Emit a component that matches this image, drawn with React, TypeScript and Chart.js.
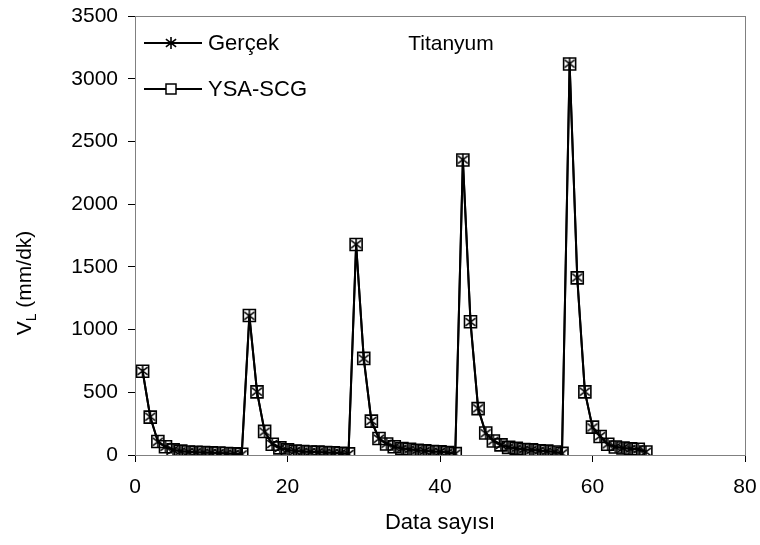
import React, { useEffect, useRef } from "react";
import { Chart, registerables } from "chart.js";

Chart.register(...registerables);

const xValues: number[] = Array.from({ length: 67 }, (_, i) => i + 1);

const gercek: number[] = [
  670, 305, 106, 65, 40, 30, 25, 22, 20, 18, 15, 12, 10, 5,
  1110, 505, 186, 88, 56, 40, 32, 28, 25, 22, 20, 18, 15, 8,
  1680, 768, 272, 130, 90, 65, 52, 45, 38, 32, 28, 25, 20, 10,
  2355, 1060, 372, 173, 114, 80, 62, 52, 45, 40, 35, 30, 25, 12,
  3120, 1415, 505, 220, 150, 85, 65, 55, 50, 45, 25,
];

const ysaScg: number[] = [
  668, 302, 108, 66, 41, 31, 24, 21, 20, 17, 16, 12, 9, 6,
  1112, 503, 188, 86, 57, 41, 31, 28, 24, 23, 19, 18, 14, 9,
  1678, 770, 270, 132, 88, 66, 51, 46, 37, 33, 27, 26, 19, 11,
  2352, 1062, 370, 175, 112, 81, 61, 53, 44, 41, 34, 31, 24, 13,
  3117, 1412, 503, 222, 148, 86, 64, 56, 49, 46, 24,
];

const xTicks = [0, 20, 40, 60, 80];
const yTicks = [0, 500, 1000, 1500, 2000, 2500, 3000, 3500];

const FONT = "Arial, 'Liberation Sans', sans-serif";

function makeAsterisk(size: number): HTMLCanvasElement {
  const c = document.createElement("canvas");
  c.width = size;
  c.height = size;
  const g = c.getContext("2d")!;
  g.strokeStyle = "#000";
  g.lineWidth = 1.6;
  const m = size / 2;
  const r = size / 2 - 1;
  g.beginPath();
  g.moveTo(m, m - r);
  g.lineTo(m, m + r);
  const d = r * 0.85;
  g.moveTo(m - d, m - d * 0.75);
  g.lineTo(m + d, m + d * 0.75);
  g.moveTo(m - d, m + d * 0.75);
  g.lineTo(m + d, m - d * 0.75);
  g.stroke();
  return c;
}

export default function App() {
  const ref = useRef<HTMLCanvasElement | null>(null);

  useEffect(() => {
    document.body.style.margin = "0";
    const canvas = ref.current!;
    const star = makeAsterisk(14);

    const overlay = {
      id: "overlay",
      beforeDatasetsDraw(chart: any) {
        const { ctx, chartArea: a } = chart;
        ctx.save();
        ctx.strokeStyle = "#808080";
        ctx.lineWidth = 1;
        ctx.strokeRect(a.left + 0.5, a.top + 0.5, a.right - a.left, a.bottom - a.top);
        ctx.restore();
      },
      afterDraw(chart: any) {
        const { ctx } = chart;
        ctx.save();
        ctx.fillStyle = "#000";
        ctx.strokeStyle = "#000";
        ctx.textBaseline = "middle";
        // title
        ctx.font = `21px ${FONT}`;
        ctx.textAlign = "center";
        ctx.fillText("Titanyum", 451, 44);
        // legend
        ctx.textAlign = "left";
        ctx.font = `22px ${FONT}`;
        const rows = [
          { y: 43, label: "Gerçek", kind: "star" },
          { y: 89, label: "YSA-SCG", kind: "rect" },
        ];
        for (const r of rows) {
          ctx.lineWidth = 2;
          ctx.beginPath();
          ctx.moveTo(144, r.y);
          ctx.lineTo(202, r.y);
          ctx.stroke();
          if (r.kind === "star") {
            ctx.drawImage(star, 171 - 7, r.y - 7);
          } else {
            ctx.lineWidth = 1.5;
            ctx.fillStyle = "#fff";
            ctx.fillRect(166, r.y - 5, 10, 10);
            ctx.strokeRect(166, r.y - 5, 10, 10);
            ctx.fillStyle = "#000";
          }
          ctx.fillText(r.label, 208, r.y + 1);
        }
        // x title
        ctx.textAlign = "center";
        ctx.font = `22px ${FONT}`;
        ctx.fillText("Data sayısı", 440, 523);
        // y title with subscript
        ctx.translate(25, 283);
        ctx.rotate(-Math.PI / 2);
        const main1 = "V";
        const sub = "L";
        const rest = " (mm/dk)";
        ctx.font = `21px ${FONT}`;
        const w1 = ctx.measureText(main1).width;
        const w3 = ctx.measureText(rest).width;
        ctx.font = `14px ${FONT}`;
        const w2 = ctx.measureText(sub).width;
        const total = w1 + w2 + w3;
        let x = -total / 2;
        ctx.textAlign = "left";
        ctx.font = `21px ${FONT}`;
        ctx.fillText(main1, x, 0);
        x += w1;
        ctx.font = `14px ${FONT}`;
        ctx.fillText(sub, x, 7);
        x += w2;
        ctx.font = `21px ${FONT}`;
        ctx.fillText(rest, x, 0);
        ctx.restore();
      },
    };

    const chart = new Chart(canvas, {
      type: "line",
      data: {
        datasets: [
          {
            label: "Gerçek",
            data: xValues.map((x, i) => ({ x, y: gercek[i] })),
            borderColor: "#000",
            borderWidth: 2,
            pointStyle: star as any,
            pointRadius: 7,
            backgroundColor: "#000",
            tension: 0,
          },
          {
            label: "YSA-SCG",
            data: xValues.map((x, i) => ({ x, y: ysaScg[i] })),
            borderColor: "#000",
            borderWidth: 2,
            pointStyle: "rect",
            pointRadius: 8.5,
            pointBorderWidth: 1.6,
            pointBackgroundColor: "rgba(0,0,0,0)",
            pointBorderColor: "#000",
            tension: 0,
          },
        ],
      },
      options: {
        animation: false,
        responsive: false,
        maintainAspectRatio: false,
        layout: { padding: { left: 0, top: 16, right: 15, bottom: 0 } },
        plugins: { legend: { display: false }, tooltip: { enabled: false } },
        scales: {
          x: {
            type: "linear",
            min: 0,
            max: 80,
            afterBuildTicks: (s: any) => {
              s.ticks = xTicks.map((v) => ({ value: v }));
            },
            afterFit: (s: any) => {
              s.height = 90;
              s.paddingLeft = 0;
              s.paddingRight = 0;
            },
            ticks: {
              color: "#000",
              font: { family: FONT, size: 21 },
              padding: 13,
              maxRotation: 0,
              callback: (v: any) => String(v),
            },
            grid: { drawOnChartArea: false, drawTicks: true, tickLength: 7, color: "#000" },
            border: { color: "#000", width: 1 },
          },
          y: {
            type: "linear",
            min: 0,
            max: 3500,
            afterBuildTicks: (s: any) => {
              s.ticks = yTicks.map((v) => ({ value: v }));
            },
            afterFit: (s: any) => {
              s.width = 135;
              s.paddingTop = 0;
              s.paddingBottom = 0;
            },
            ticks: {
              color: "#000",
              font: { family: FONT, size: 21 },
              padding: 10,
              callback: (v: any) => String(v),
            },
            grid: { drawOnChartArea: false, drawTicks: true, tickLength: 7, color: "#000" },
            border: { color: "#000", width: 1 },
          },
        },
      },
      plugins: [overlay],
    });
    return () => chart.destroy();
  }, []);

  return <canvas ref={ref} width={760} height={545} style={{ display: "block" }} />;
}
